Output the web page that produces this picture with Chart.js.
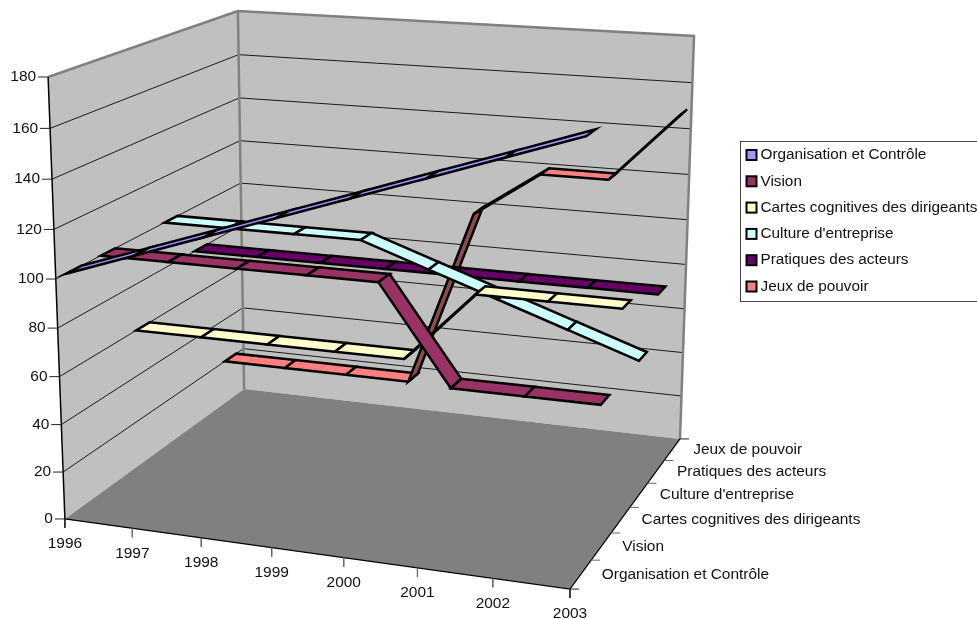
<!DOCTYPE html>
<html>
<head>
<meta charset="utf-8">
<style>
  html, body { margin: 0; padding: 0; background: #fff; }
  canvas { display: block; }
</style>
</head>
<body>
<canvas id="chart" width="977" height="619"></canvas>
<script src="https://cdn.jsdelivr.net/npm/chart.js@4/dist/chart.umd.min.js"></script>
<script>
"use strict";

const years = ["1996", "1997", "1998", "1999", "2000", "2001", "2002", "2003"];
const valueTicks = [0, 20, 40, 60, 80, 100, 120, 140, 160, 180];
const seriesNames = [
  "Organisation et Contrôle",
  "Vision",
  "Cartes cognitives des dirigeants",
  "Culture d'entreprise",
  "Pratiques des acteurs",
  "Jeux de pouvoir",
];
const organisation = [100, 110, 120, 130, 140, 150, 160, 170];
const vision = [100, 100, 100, 100, 100, 60, 60, 60];
const cartes = [60, 60, 60, 60, 60, 90, 90, 90];
const culture = [100, 100, 100, 100, 90, 80, 70, 60];
const pratiques = [80, 80, 80, 80, 80, 80, 80, 80];
const jeux = [20, 20, 20, 20, 100, 120, 120, 150];
const seriesValues = [organisation, vision, cartes, culture, pratiques, jeux];
const seriesColors = ["#9999FF", "#993366", "#FFFFCC", "#CCFFFF", "#660066", "#FF8080"];
const underColors = ["#4C4C80", "#4C1933", "#808066", "#668080", "#330033", "#8A4C4C"];

const valueMax = 180;
const ribbonHalf = 0.036;
const labelFont = "15.45px 'Liberation Sans', Arial, sans-serif";
const legendFont = "15.3px 'Liberation Sans', Arial, sans-serif";

// box corners (year, value, depth, all 0..1) and where they land on the page
const cameraRefs = [
  [0, 0, 0, 65, 519],
  [1, 0, 0, 570, 589],
  [0, 0, 1, 244, 389],
  [1, 0, 1, 680, 439],
  [0, 1, 0, 48, 77],
  [0, 1, 1, 238, 11],
  [1, 1, 1, 694, 36],
];

function solveCamera(refs) {
  const n = 11;
  const ata = Array.from({ length: n }, () => new Array(n + 1).fill(0));
  const addRow = (row, rhs) => {
    for (let i = 0; i < n; i++) {
      for (let j = 0; j < n; j++) ata[i][j] += row[i] * row[j];
      ata[i][n] += row[i] * rhs;
    }
  };
  refs.forEach(([u, v, w, x, y]) => {
    addRow([u, v, w, 1, 0, 0, 0, 0, -x * u, -x * v, -x * w], x);
    addRow([0, 0, 0, 0, u, v, w, 1, -y * u, -y * v, -y * w], y);
  });
  for (let c = 0; c < n; c++) {
    let best = c;
    for (let r = c + 1; r < n; r++) {
      if (Math.abs(ata[r][c]) > Math.abs(ata[best][c])) best = r;
    }
    [ata[c], ata[best]] = [ata[best], ata[c]];
    for (let r = 0; r < n; r++) {
      if (r === c) continue;
      const f = ata[r][c] / ata[c][c];
      for (let k = c; k <= n; k++) ata[r][k] -= f * ata[c][k];
    }
  }
  return ata.map((row, i) => row[n] / row[i]);
}

const cam = solveCamera(cameraRefs);

function project(u, v, w) {
  const d = cam[8] * u + cam[9] * v + cam[10] * w + 1;
  return {
    x: (cam[0] * u + cam[1] * v + cam[2] * w + cam[3]) / d,
    y: (cam[4] * u + cam[5] * v + cam[6] * w + cam[7]) / d,
  };
}

const datasets = [];

function addShape(points, opts) {
  const closed = opts.fill !== undefined;
  datasets.push({
    data: closed ? [...points, points[0], points[1]] : points,
    showLine: true,
    pointRadius: 0,
    tension: 0,
    clip: false,
    fill: closed ? "shape" : false,
    backgroundColor: opts.fill || "transparent",
    borderColor: opts.line || "transparent",
    borderWidth: opts.width === undefined ? 0 : opts.width,
    order: -datasets.length,
  });
}

function offset(p, dx, dy) {
  return { x: p.x + dx, y: p.y + dy };
}

// walls and floor
addShape([project(0, 0, 0), project(0, 1, 0), project(0, 1, 1), project(0, 0, 1)], { fill: "#C0C0C0" });
addShape([project(0, 0, 1), project(0, 1, 1), project(1, 1, 1), project(1, 0, 1)], { fill: "#C0C0C0" });
addShape([project(0, 0, 0), project(1, 0, 0), project(1, 0, 1), project(0, 0, 1)], { fill: "#808080" });

// gridlines
valueTicks.slice(1, -1).forEach((t) => {
  const v = t / valueMax;
  addShape([project(0, v, 0), project(0, v, 1), project(1, v, 1)], { line: "#1a1a1a", width: 1 });
});

// wall edges
addShape([project(0, 1, 0), project(0, 1, 1), project(1, 1, 1), project(1, 0, 1)], { line: "#808080", width: 2.5 });
addShape([project(0, 1, 1), project(0, 0, 1)], { line: "#808080", width: 2.5 });
addShape([project(0, 1, 0), project(0, 0, 0)], { line: "#000000", width: 1.5 });
addShape([project(0, 0, 0), project(1, 0, 0), project(1, 0, 1)], { line: "#000000", width: 1.2 });

// axis ticks
valueTicks.forEach((t) => {
  const p = project(0, t / valueMax, 0);
  addShape([p, offset(p, -10, 0)], { line: "#222222", width: 1 });
});
years.forEach((y, i) => {
  const p = project(i / (years.length - 1), 0, 0);
  addShape([p, offset(p, 0, 9)], { line: i === 0 || i === 7 ? "#222222" : "#666666", width: 1 });
});
seriesNames.concat("").forEach((s, i) => {
  const p = project(1, 0, i / seriesNames.length);
  addShape([p, offset(p, 9, 0)], { line: i === 0 || i === 6 ? "#222222" : "#666666", width: 1 });
});

// ribbons, back series first so the front ones paint over them
for (let s = seriesValues.length - 1; s >= 0; s--) {
  const values = seriesValues[s];
  const w = (s + 0.5) / seriesValues.length;
  for (let i = 0; i < values.length - 1; i++) {
    const u0 = i / (values.length - 1);
    const u1 = (i + 1) / (values.length - 1);
    const a = project(u0, values[i] / valueMax, w - ribbonHalf);
    const b = project(u1, values[i + 1] / valueMax, w - ribbonHalf);
    const c = project(u1, values[i + 1] / valueMax, w + ribbonHalf);
    const d = project(u0, values[i] / valueMax, w + ribbonHalf);
    const quad = [a, b, c, d];
    let area = 0;
    quad.forEach((p, k) => {
      const q = quad[(k + 1) % 4];
      area += p.x * q.y - q.x * p.y;
    });
    addShape(quad, {
      fill: area > 0 ? underColors[s] : seriesColors[s],
      line: "#000000",
      width: 2.5,
    });
  }
}

const labelsPlugin = {
  id: "labels3d",
  afterDraw(chart) {
    const ctx = chart.ctx;
    ctx.save();
    ctx.font = labelFont;
    ctx.fillStyle = "#111111";
    ctx.textBaseline = "middle";

    ctx.textAlign = "right";
    valueTicks.forEach((t) => {
      const p = project(0, t / valueMax, 0);
      ctx.fillText(String(t), p.x - 12, p.y);
    });

    ctx.textAlign = "center";
    years.forEach((y, i) => {
      const p = project(i / (years.length - 1), 0, 0);
      ctx.fillText(y, p.x, p.y + 25);
    });

    ctx.textAlign = "left";
    seriesNames.forEach((name, i) => {
      const p = project(1, 0, (i + 0.5) / seriesNames.length);
      ctx.fillText(name, p.x + 21, p.y);
    });

    // legend box runs off the right edge like the original
    ctx.font = legendFont;
    ctx.strokeStyle = "#444444";
    ctx.lineWidth = 1;
    ctx.strokeRect(740.5, 141.5, 260, 160);
    seriesNames.forEach((name, i) => {
      const y = 155 + i * 26.3;
      ctx.fillStyle = seriesColors[i];
      ctx.fillRect(746.5, y - 5, 10, 10);
      ctx.strokeStyle = "#000000";
      ctx.lineWidth = 2;
      ctx.strokeRect(746.5, y - 5, 10, 10);
      ctx.fillStyle = "#111111";
      ctx.fillText(name, 760.5, y);
    });
    ctx.restore();
  },
};

new Chart(document.getElementById("chart"), {
  type: "scatter",
  data: { datasets },
  options: {
    responsive: false,
    animation: false,
    layout: { padding: 0 },
    scales: {
      x: { type: "linear", display: false, min: 0, max: 977 },
      y: { type: "linear", display: false, min: 0, max: 619, reverse: true },
    },
    plugins: { legend: { display: false }, tooltip: { enabled: false } },
  },
  plugins: [labelsPlugin],
});
</script>
</body>
</html>
